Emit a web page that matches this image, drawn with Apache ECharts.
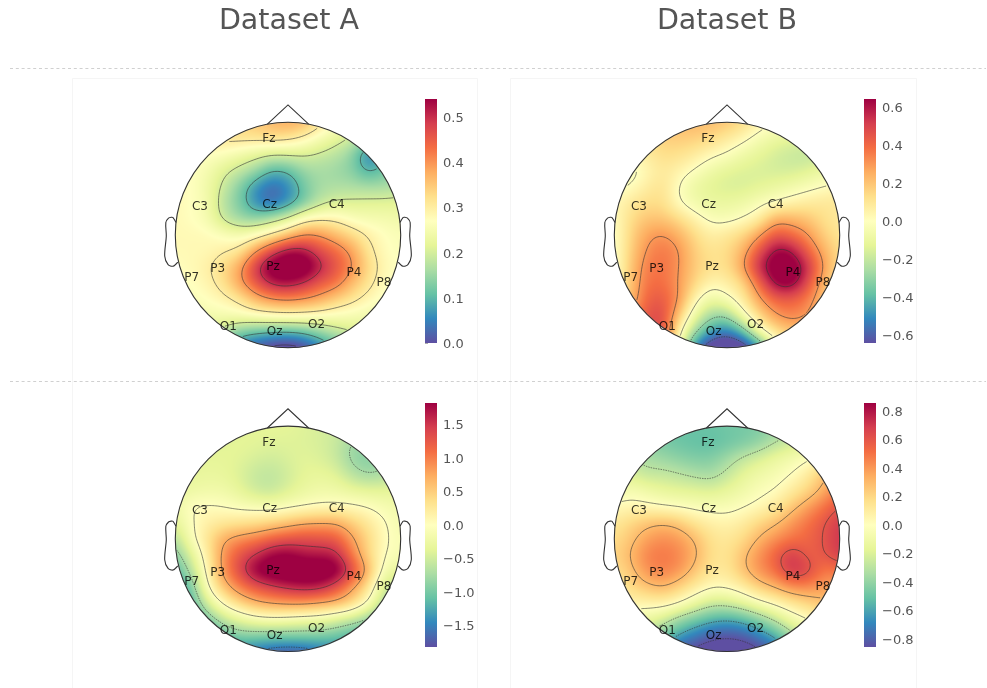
<!DOCTYPE html>
<html><head><meta charset="utf-8">
<style>html,body{margin:0;padding:0;background:#fff}#c{width:987px;height:688px}</style>
<script src="https://cdn.jsdelivr.net/npm/echarts@6/dist/echarts.min.js"></script>
</head><body><div id="c"></div>
<script>
const columnTitles = ['Dataset A', 'Dataset B'];
const sensorNames = ['Fz','C3','Cz','C4','P3','Pz','P4','P7','P8','O1','Oz','O2'];
const sensorX = [-.169,-.781,-.163,.432,-.624,-.133,.586,-.855,.852,-.53,-.118,.254];
const sensorY = [.858,.257,.272,.272,-.29,-.272,-.331,-.373,-.417,-.808,-.852,-.787];
const spectral = ['#5e4fa2','#3288bd','#66c2a5','#abdda4','#e6f598','#ffffbf','#fee08b','#fdae61','#f46d43','#d53e4f','#9e0142'];
const noseX = [-.183,0,.183], noseY = [.983,1.154,.983];
const earX = [.994,1.02,1.036,1.06,1.084,1.08,1.094,1.064,1.02,.978];
const earY = [.111,.155,.157,.149,.111,-.011,-.186,-.263,-.277,-.24];

const ticksA1 = [0,.1,.2,.3,.4,.5];
const ticksB1 = [-.6,-.4,-.2,0,.2,.4,.6];
const ticksA2 = [-1.5,-1,-.5,0,.5,1,1.5];
const ticksB2 = [-.8,-.6,-.4,-.2,0,.2,.4,.6,.8];
const rangeA1 = [0,.54], rangeB1 = [-.642,.642], rangeA2 = [-1.82,1.82], rangeB2 = [-.856,.856];
const levelsA1 = [0,.1,.2,.3,.4,.5];
const levelsB1 = [-.6,-.3,0,.3,.6];
const levelsA2 = [-1.5,-.75,0,.75,1.5];
const levelsB2 = [-.85,-.6,-.3,0,.3,.6];

// values read on a 15x15 lattice over the scalp, top row first
const fieldA1 = [
[.28,.28,.29,.30,.33,.35,.37,.385,.37,.32,.27,.24,.20,.16,.14],
[.28,.28,.31,.32,.32,.32,.325,.315,.29,.25,.22,.195,.15,.15,.14],
[.28,.28,.27,.26,.24,.22,.20,.205,.205,.19,.175,.14,.03,.09,.13],
[.28,.27,.25,.21,.185,.15,.09,.10,.15,.16,.15,.135,.08,.12,.14],
[.28,.27,.24,.19,.13,.06,.02,.05,.12,.16,.165,.165,.16,.16,.17],
[.28,.27,.25,.17,.125,.05,.02,.06,.12,.18,.205,.21,.215,.215,.22],
[.28,.27,.25,.185,.15,.14,.17,.21,.28,.295,.29,.26,.25,.25,.24],
[.28,.28,.28,.265,.25,.27,.31,.36,.41,.40,.36,.33,.295,.27,.26],
[.28,.28,.28,.295,.31,.40,.48,.54,.53,.47,.44,.39,.31,.275,.26],
[.27,.28,.295,.33,.385,.50,.58,.60,.59,.52,.46,.41,.33,.28,.27],
[.26,.27,.285,.32,.39,.46,.52,.53,.50,.45,.43,.36,.315,.27,.26],
[.25,.26,.27,.285,.31,.37,.40,.41,.40,.38,.34,.315,.28,.26,.25],
[.24,.24,.25,.25,.26,.27,.28,.285,.28,.27,.26,.25,.24,.24,.24],
[.22,.22,.21,.185,.125,.11,.10,.095,.11,.145,.18,.205,.22,.22,.22],
[.15,.12,.10,.08,.04,0,-.03,-.04,-.02,.04,.09,.13,.15,.17,.18]];
const fieldB1 = [
[.2,.2,.2,.2,.22,.24,.22,.2,.14,.06,.01,-.02,-.04,-.05,-.05],
[.08,.1,.12,.17,.18,.17,.14,.08,.03,-.05,-.1,-.12,-.13,-.12,-.11],
[-.02,.02,.08,.13,.12,.08,.02,-.01,-.08,-.12,-.17,-.2,-.22,-.19,-.16],
[-.05,-.05,.03,.09,.05,-.01,-.08,-.13,-.15,-.16,-.17,-.17,-.14,-.09,-.08],
[-.03,0,.07,.12,-.01,-.10,-.14,-.16,-.16,-.13,-.10,-.07,-.03,0,.03],
[.02,.09,.13,.13,-.002,-.07,-.10,-.10,-.08,-.03,0,.05,.08,.1,.1],
[0,.13,.2,.2,.14,.05,-.03,-.04,0,.06,.26,.24,.2,.12,.08],
[-.02,.15,.28,.32,.25,.14,.06,.10,.15,.28,.46,.40,.31,.17,.1],
[-.03,.17,.32,.37,.32,.17,.11,.13,.24,.46,.66,.63,.42,.25,.12],
[-.04,.19,.36,.38,.31,.18,.12,.12,.29,.58,.72,.73,.57,.29,.12],
[-.03,.2,.38,.39,.30,.15,.03,.06,.14,.40,.66,.70,.47,.22,.1],
[.1,.2,.42,.44,.32,.03,-.10,-.03,.08,.28,.41,.42,.35,.2,.12],
[.2,.3,.45,.5,.2,-.1,-.28,-.3,-.04,.15,.3,.35,.3,.2,.12],
[.25,.35,.45,.5,.05,-.28,-.47,-.55,-.4,-.04,.12,.2,.2,.15,.1],
[.2,.3,.4,.45,-.05,-.55,-.75,-.8,-.75,-.55,-.1,.05,.1,.1,.1]];
const fieldA2 = [
[-.5,-.5,-.48,-.45,-.4,-.36,-.35,-.36,-.4,-.45,-.5,-.55,-.65,-.7,-.7],
[-.45,-.42,-.4,-.38,-.35,-.37,-.4,-.4,-.42,-.45,-.55,-.8,-.8,-.62,-.6],
[-.37,-.36,-.35,-.35,-.38,-.45,-.5,-.43,-.38,-.42,-.55,-.85,-.95,-.8,-.65],
[-.35,-.32,-.3,-.32,-.42,-.58,-.62,-.5,-.35,-.32,-.38,-.65,-.8,-.72,-.55],
[-.3,-.25,-.2,-.2,-.35,-.53,-.58,-.42,-.28,-.2,-.22,-.3,-.35,-.35,-.33],
[-.22,.03,.04,-.01,-.08,-.12,-.15,-.08,-.03,.03,.05,.04,-.01,-.12,-.18],
[-.35,-.02,.18,.25,.3,.35,.45,.58,.72,.75,.75,.5,.25,.02,-.15],
[-.7,-.05,.3,.75,.9,1.0,1.2,1.3,1.35,1.3,1.25,.8,.42,.02,-.1],
[-.95,-.4,.2,.9,1.3,1.55,1.85,1.9,1.7,1.7,1.65,1.0,.42,-.03,-.1],
[-1.2,-.65,.1,.9,1.4,1.95,2.1,2.15,2.15,2.15,2.05,1.4,.7,-.2,-.3],
[-1.5,-1.0,0,.6,1.0,1.25,1.45,1.6,1.7,1.65,1.3,.8,.3,-.55,-.7],
[-1.5,-1.2,-.45,.07,.45,.7,.8,.85,.85,.75,.7,.45,-.02,-.72,-.9],
[-1.5,-1.3,-1.0,-.55,-.35,-.15,-.1,-.15,-.22,-.25,-.45,-.6,-.85,-1.1,-1.2],
[-1.6,-1.6,-1.5,-1.1,-.9,-.95,-.95,-.95,-.95,-.97,-1.05,-1.2,-1.3,-1.3,-1.3],
[-1.7,-1.7,-1.7,-1.6,-1.55,-1.6,-1.75,-1.8,-1.75,-1.6,-1.5,-1.5,-1.5,-1.5,-1.5]];
const fieldB2 = [
[-.5,-.5,-.5,-.5,-.5,-.5,-.5,-.48,-.47,-.45,-.4,-.37,-.3,-.3,-.3],
[-.4,-.4,-.42,-.47,-.5,-.52,-.53,-.5,-.47,-.42,-.31,-.24,-.18,-.12,-.1],
[-.3,-.3,-.35,-.38,-.42,-.45,-.45,-.37,-.27,-.2,-.13,-.08,-.02,.03,.07],
[-.2,-.2,-.27,-.26,-.29,-.33,-.36,-.27,-.16,-.1,-.06,0,.1,.28,.4],
[-.1,-.05,-.1,-.15,-.17,-.18,-.2,-.15,-.1,-.03,0,.1,.2,.33,.5],
[.02,.05,.03,0,-.02,-.04,-.05,-.05,-.01,.03,.1,.25,.38,.5,.62],
[.12,.2,.27,.31,.26,.14,.08,.06,.1,.2,.28,.4,.5,.6,.7],
[.17,.26,.38,.43,.4,.3,.15,.12,.18,.32,.42,.49,.54,.6,.72],
[.2,.31,.46,.5,.45,.34,.17,.14,.28,.42,.56,.72,.55,.59,.7],
[.16,.26,.42,.47,.42,.26,.13,.12,.28,.42,.52,.74,.68,.47,.5],
[.08,.18,.27,.32,.22,.11,.02,.03,.09,.24,.31,.42,.44,.38,.35],
[.05,.06,.06,.08,.02,-.12,-.25,-.24,-.15,-.05,.04,.13,.2,.28,.27],
[-.1,-.1,-.12,-.22,-.38,-.48,-.56,-.6,-.55,-.42,-.27,-.1,0,.1,.15],
[-.3,-.3,-.35,-.45,-.62,-.72,-.82,-.85,-.82,-.72,-.58,-.35,-.2,-.1,-.05],
[-.5,-.5,-.55,-.7,-.85,-.92,-.95,-.95,-.95,-.9,-.8,-.6,-.4,-.3,-.2]];

const R = 112.7, span = 1.25;
const panels = [
 {cx:288,cy:235,  cbTop:99, field:fieldA1,range:rangeA1,ticks:ticksA1,levels:levelsA1},
 {cx:727,cy:235,  cbTop:99, field:fieldB1,range:rangeB1,ticks:ticksB1,levels:levelsB1},
 {cx:288,cy:538.8,cbTop:403,field:fieldA2,range:rangeA2,ticks:ticksA2,levels:levelsA2},
 {cx:727,cy:538.8,cbTop:403,field:fieldB2,range:rangeB2,ticks:ticksB2,levels:levelsB2}
];
const cbLeft = [425,864];

function hex(c){return [1,3,5].map(i=>parseInt(c.substr(i,2),16));}
const stops = spectral.map(hex);
function colorAt(t){
  t=Math.max(0,Math.min(1,t))*(stops.length-1);
  const i=Math.min(stops.length-2,Math.floor(t)),f=t-i;
  return [0,1,2].map(k=>stops[i][k]+(stops[i+1][k]-stops[i][k])*f);
}
function cr(a,b,c,d,t){
  const t2=t*t,t3=t2*t;
  return (a*(1-t)*(1-t)*(1-t)+b*(3*t3-6*t2+4)+c*(-3*t3+3*t2+3*t+1)+d*t3)/6;
}
function sampler(m){
  const n=m.length, g=(r,c)=>m[Math.max(0,Math.min(n-1,r))][Math.max(0,Math.min(n-1,c))];
  return (u,v)=>{
    const x=(u+1)/2*(n-1), y=(1-v)/2*(n-1);
    const c=Math.max(0,Math.min(n-2,Math.floor(x))), r=Math.max(0,Math.min(n-2,Math.floor(y)));
    const tx=x-c, ty=y-r, row=[];
    for(let j=-1;j<3;j++) row.push(cr(g(r+j,c-1),g(r+j,c),g(r+j,c+1),g(r+j,c+2),tx));
    return cr(row[0],row[1],row[2],row[3],ty);
  };
}
function raster(p,size){
  const cv=document.createElement('canvas');cv.width=cv.height=size;
  const ctx=cv.getContext('2d'),im=ctx.createImageData(size,size),f=sampler(p.field),h=size/2;
  for(let y=0;y<size;y++)for(let x=0;x<size;x++){
    const dx=x+.5-h,dy=y+.5-h,d=Math.hypot(dx,dy),a=Math.max(0,Math.min(1,h-d+.5));
    if(a<=0)continue;
    const c=colorAt((f(dx/h,-dy/h)-p.range[0])/(p.range[1]-p.range[0])),o=(y*size+x)*4;
    im.data[o]=c[0];im.data[o+1]=c[1];im.data[o+2]=c[2];im.data[o+3]=a*255;
  }
  ctx.putImageData(im,0,0);return cv;
}
function contours(p,level,steps){
  const f=sampler(p.field),N=steps,val=[];
  const U=i=>-1+2*i/N;
  for(let j=0;j<=N;j++){val[j]=[];for(let i=0;i<=N;i++)val[j][i]=f(U(i),-U(j));}
  const inside=(i,j)=>Math.hypot(U(i),U(j))<=.995;
  const adj=new Map(),pts=new Map();
  const add=(a,b)=>{(adj.get(a)||adj.set(a,[]).get(a)).push(b);(adj.get(b)||adj.set(b,[]).get(b)).push(a);};
  const pt=(key,x,y)=>{pts.set(key,[x,y]);return key;};
  for(let j=0;j<N;j++)for(let i=0;i<N;i++){
    if(!(inside(i,j)&&inside(i+1,j)&&inside(i,j+1)&&inside(i+1,j+1)))continue;
    const a=val[j][i],b=val[j][i+1],c=val[j+1][i+1],d=val[j+1][i];
    const e=[];
    if((a>=level)!==(b>=level))e.push(pt('h'+j+'_'+i,U(i+(level-a)/(b-a)),U(j)));
    if((b>=level)!==(c>=level))e.push(pt('v'+j+'_'+(i+1),U(i+1),U(j+(level-b)/(c-b))));
    if((d>=level)!==(c>=level))e.push(pt('h'+(j+1)+'_'+i,U(i+(level-d)/(c-d)),U(j+1)));
    if((a>=level)!==(d>=level))e.push(pt('v'+j+'_'+i,U(i),U(j+(level-a)/(d-a))));
    if(e.length===2)add(e[0],e[1]);
    else if(e.length===4){add(e[0],e[1]);add(e[2],e[3]);}
  }
  const used=new Set(),lines=[];
  const walk=start=>{
    const line=[start];used.add(start);let cur=start;
    for(;;){const nx=(adj.get(cur)||[]).find(k=>!used.has(k));if(nx===undefined)break;used.add(nx);line.push(nx);cur=nx;}
    return line;
  };
  for(const [k,v] of adj) if(v.length===1&&!used.has(k)) lines.push(walk(k));
  for(const [k] of adj) if(!used.has(k)){const l=walk(k);l.push(l[0]);lines.push(l);}
  return lines.map(l=>l.map(k=>pts.get(k)));
}

const grids=[],xAxes=[],yAxes=[],series=[];
panels.forEach((p,idx)=>{
  const left=p.cx-span*R, top=p.cy-span*R, w=2*span*R;
  grids.push({left:left,top:top,width:w,height:w});
  xAxes.push({type:'value',gridIndex:grids.length-1,min:-span,max:span,show:false});
  yAxes.push({type:'value',gridIndex:grids.length-1,min:-span,max:span,show:false});
  const gi=grids.length-1;
  const n=p.field.length, nodes=[];
  p.field.forEach((row,r)=>row.forEach((v,c)=>nodes.push([-1+2*c/(n-1),1-2*r/(n-1),v])));
  let cache=null;
  series.push({type:'custom',xAxisIndex:gi,yAxisIndex:gi,data:nodes,silent:true,animation:false,clip:false,z:1,
    renderItem(params,api){
      if(params.dataIndex!==0)return null;
      const a=api.coord([-1,1]),b=api.coord([1,-1]),size=b[0]-a[0];
      if(!cache){
        const cv=raster(p,Math.round(size));
        cache={cv,lines:[]};
        p.levels.forEach(l=>contours(p,l,Math.round(size/1.5)).forEach(pts=>cache.lines.push({l,pts})));
      }
      const kids=[{type:'image',style:{image:cache.cv,x:a[0],y:a[1],width:size,height:size}}];
      cache.lines.forEach(({l,pts})=>kids.push({type:'polyline',
        shape:{points:pts.map(q=>api.coord([q[0],-q[1]]))},
        style:{fill:null,stroke:'rgba(50,50,50,.65)',lineWidth:.9,lineDash:l<0?[1.5,1]:null}}));
      return {type:'group',children:kids};
    }});
  series.push({type:'custom',xAxisIndex:gi,yAxisIndex:gi,data:[[0,0]],silent:true,animation:false,clip:false,z:3,
    renderItem(params,api){
      const c=api.coord([0,0]),e=api.coord([1,0])[0]-c[0];
      const st={fill:null,stroke:'#333',lineWidth:1.1};
      const poly=(xs,ys,sign,smooth)=>({type:'polyline',shape:{points:xs.map((x,i)=>api.coord([sign*x,ys[i]])),smooth:smooth||0},style:st});
      return {type:'group',children:[
        {type:'circle',shape:{cx:c[0],cy:c[1],r:e},style:st},
        poly(noseX,noseY,1),poly(earX,earY,1,.3),poly(earX,earY,-1,.3)]};
    }});
  series.push({type:'scatter',xAxisIndex:gi,yAxisIndex:gi,silent:true,animation:false,z:4,symbolSize:0,
    data:sensorNames.map((s,i)=>({name:s,value:[sensorX[i],sensorY[i]]})),
    label:{show:true,position:'inside',offset:[0,1],formatter:'{b}',color:'#000',fontFamily:'DejaVu Sans',fontSize:12}});
  const cl=cbLeft[idx%2];
  grids.push({left:cl,top:p.cbTop,width:12,height:244});
  const cg=grids.length-1;
  xAxes.push({type:'value',gridIndex:cg,min:0,max:1,show:false});
  yAxes.push({type:'value',gridIndex:cg,min:p.range[0],max:p.range[1],position:'right',
    axisLine:{show:false},splitLine:{show:false},
    axisTick:{show:true,length:3,lineStyle:{color:'#aaa'},customValues:p.ticks},
    axisLabel:{show:true,margin:6,customValues:p.ticks,
      rich:{t:{color:'#555',fontFamily:'DejaVu Sans',fontSize:13,padding:[3,0,0,0]}},
      formatter:v=>{const s=Math.abs(v).toFixed(1);return '{t|'+(v<-1e-9?'\u2212':'')+s+'}';}}});
  series.push({type:'custom',xAxisIndex:cg,yAxisIndex:cg,data:[[0,p.range[1]]],silent:true,animation:false,
    renderItem(params,api){
      const a=api.coord([0,p.range[1]]),b=api.coord([1,p.range[0]]);
      const cs=spectral.slice().reverse().map((c,i)=>({offset:i/(spectral.length-1),color:c}));
      return {type:'rect',shape:{x:a[0],y:a[1],width:b[0]-a[0],height:b[1]-a[1]},
        style:{fill:new echarts.graphic.LinearGradient(0,0,0,1,cs)}};
    }});
});

const boxes=[[72,78,405,700],[510,78,406,700]];
const rules=[68,381];
const chart=echarts.init(document.getElementById('c'),null,{renderer:'canvas'});
chart.setOption({
  animation:false,backgroundColor:'#fff',
  title:columnTitles.map((t,i)=>({text:t,left:[284,722][i],top:2,textAlign:'center',
    textStyle:{color:'#555',fontFamily:'DejaVu Sans',fontWeight:'normal',fontSize:28.5}})),
  graphic:[
    ...boxes.map(b=>({type:'rect',silent:true,z:-1,shape:{x:b[0]+.5,y:b[1]+.5,width:b[2],height:b[3]},style:{fill:'#fff',stroke:'#f5f5f5',lineWidth:1}})),
    ...rules.map(y=>({type:'line',silent:true,shape:{x1:10,y1:y+.5,x2:986,y2:y+.5},style:{stroke:'#d0d0d0',lineWidth:1,lineDash:[3,2.8]}}))
  ],
  grid:grids,xAxis:xAxes,yAxis:yAxes,series
});
</script></body></html>
